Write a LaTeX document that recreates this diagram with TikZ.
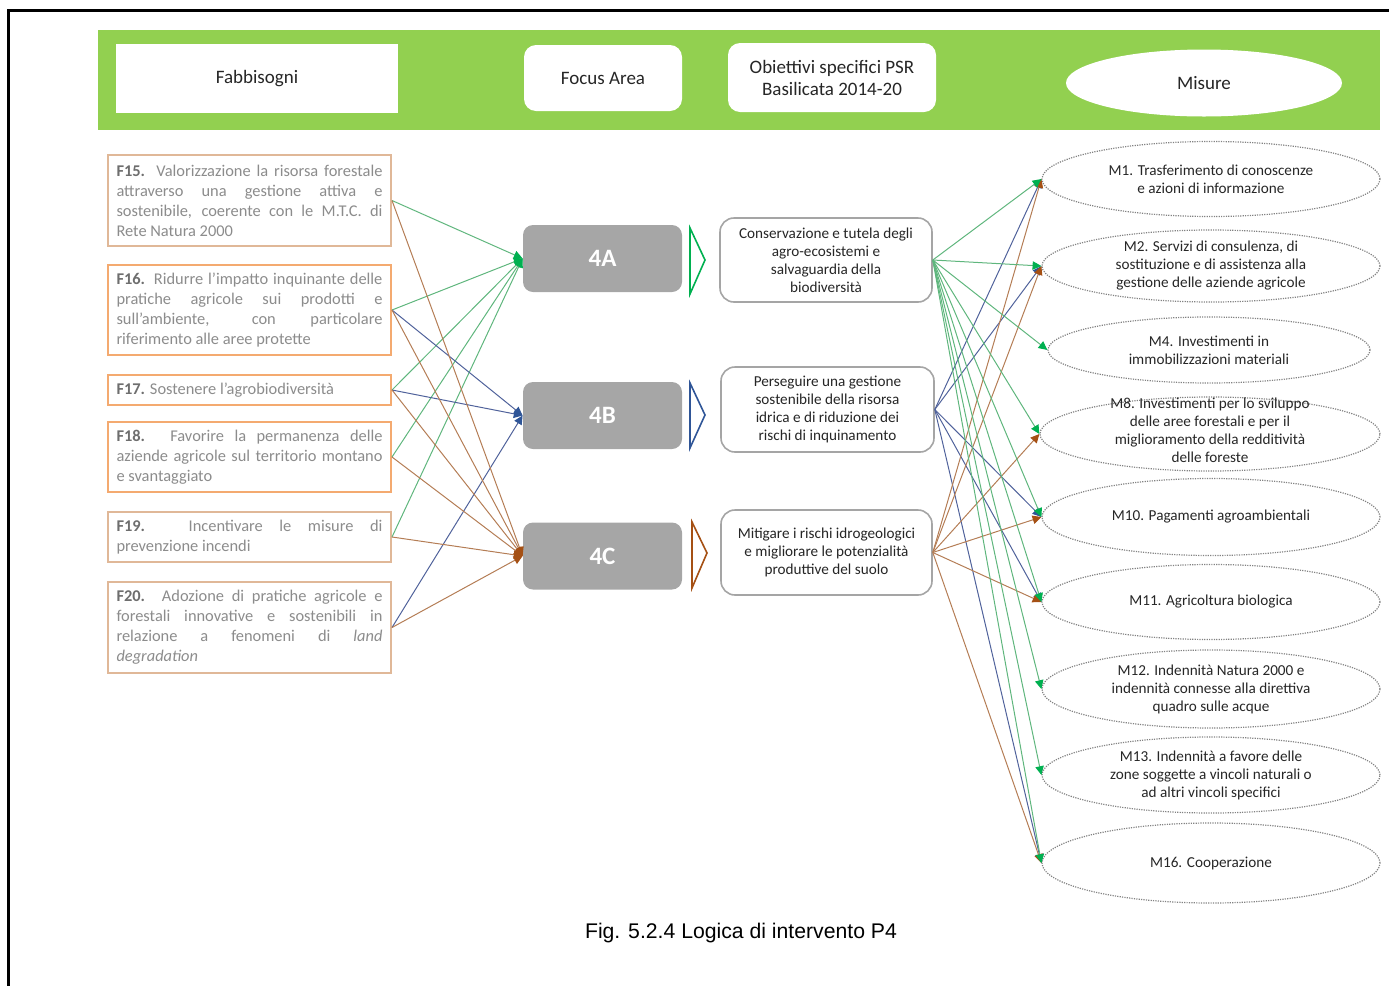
\documentclass[tikz,border=0pt]{standalone}
\usepackage{fontspec}
\setmainfont{Carlito}
\newfontfamily\capfont{Liberation Sans}
\usetikzlibrary{arrows.meta,shapes.geometric}
\definecolor{hdrgreen}{RGB}{146,208,80}
\definecolor{boxgrey}{RGB}{166,166,166}
\definecolor{orgA}{RGB}{244,170,112}
\definecolor{orgB}{RGB}{224,184,152}
\definecolor{ftext}{RGB}{140,140,140}
\definecolor{flabel}{RGB}{110,110,110}
\definecolor{objgrey}{RGB}{165,165,165}
\definecolor{mgrey}{RGB}{130,130,130}
\definecolor{lgreen}{RGB}{95,182,125}
\definecolor{hgreen}{RGB}{0,176,80}
\definecolor{lblue}{RGB}{80,98,155}
\definecolor{hblue}{RGB}{47,85,151}
\definecolor{lbrown}{RGB}{180,125,85}
\definecolor{hbrown}{RGB}{165,80,20}
\tikzset{
  hdrbox/.style={fill=white, align=center, text=black!85, font=\fontsize{9.5}{11}\selectfont},
  fbox/.style={draw=orgA, line width=1pt, fill=white, text width=133pt, align=justify,
    inner xsep=4.25pt, inner ysep=0pt, text=ftext, font=\fontsize{8.2}{10}\selectfont},
  fboxtan/.style={fbox, draw=orgB},
  fabox/.style={fill=boxgrey, rounded corners=5pt, minimum width=79.5pt, minimum height=33.5pt,
    text=white, font=\bfseries\fontsize{12.5}{14}\selectfont},
  objbox/.style={draw=objgrey, line width=0.8pt, rounded corners=7pt, fill=white,
    minimum width=106pt, minimum height=42pt, align=center, text=black!85,
    font=\fontsize{7.6}{9}\selectfont},
  mea/.style={ellipse, draw=mgrey, dash pattern=on 0.6pt off 0.6pt, line width=0.6pt,
    inner sep=0pt, minimum width=169pt},
  mtext/.style={align=center, text=black!85, font=\fontsize{7.6}{9}\selectfont},
  cg/.style={draw=lgreen, line width=0.5pt, -{Triangle[length=4.4pt,width=4.2pt,color=hgreen]}},
  cb/.style={draw=lblue, line width=0.5pt, -{Triangle[length=4.4pt,width=4.2pt,color=hblue]}},
  cr/.style={draw=lbrown, line width=0.5pt, -{Triangle[length=4.4pt,width=4.2pt,color=hbrown]}},
  chev/.style={line width=0.8pt, line join=miter}
}
\begin{document}
\begin{tikzpicture}[x=0.5pt,y=-0.5pt]
\useasboundingbox (0,0) rectangle (1389,986);
% frame
\draw[line width=1.5pt] (8,986) -- (8,10) -- (1389,10);
% header
\fill[hdrgreen] (98,30) rectangle (1380,130);
\node[hdrbox, minimum width=141pt, minimum height=34.5pt] (hfab) at (257,78.5) {Fabbisogni};
\node[hdrbox, rounded corners=6pt, minimum width=79pt, minimum height=33pt] (hfa) at (603,78) {Focus Area};
\node[hdrbox, rounded corners=6pt, minimum width=104pt, minimum height=34.5pt] (hobj) at (832,77.5) {Obiettivi specifici PSR\\Basilicata 2014-20};
\node[hdrbox, ellipse, inner sep=0pt, minimum width=138pt, minimum height=33.5pt] (hmis) at (1204,83) {Misure};

% fabbisogni
\node[fboxtan, minimum height=45.5pt] (f15) at (249.5,200.5) {\textcolor{flabel}{\textbf{F15.}} Valorizzazione la risorsa forestale\linebreak attraverso una gestione attiva e\linebreak sostenibile, coerente con le M.T.C. di\linebreak Rete Natura 2000};
\node[fbox, minimum height=45pt] (f16) at (249.5,310) {\textcolor{flabel}{\textbf{F16.}} Ridurre l’impatto inquinante delle\linebreak pratiche agricole sui prodotti e\linebreak sull’ambiente, con particolare\linebreak riferimento alle aree protette};
\node[fbox, minimum height=15pt] (f17) at (249.5,390) {\textcolor{flabel}{\textbf{F17.}} Sostenere l’agrobiodiversità};
\node[fbox, minimum height=35pt] (f18) at (249.5,457) {\textcolor{flabel}{\textbf{F18.}} Favorire la permanenza delle\linebreak aziende agricole sul territorio montano\linebreak e svantaggiato};
\node[fboxtan, minimum height=25pt] (f19) at (249.5,537) {\textcolor{flabel}{\textbf{F19.}} Incentivare le misure di\linebreak prevenzione incendi};
\node[fboxtan, minimum height=45.5pt] (f20) at (249.5,627.5) {\textcolor{flabel}{\textbf{F20.}} Adozione di pratiche agricole e\linebreak forestali innovative e sostenibili in\linebreak relazione a fenomeni di \textit{land}\linebreak \textit{degradation}};

% focus areas
\node[fabox] (fa4a) at (602.5,258.5) {4A};
\node[fabox] (fa4b) at (602.5,415.5) {4B};
\node[fabox] (fa4c) at (602.5,556) {4C};

% chevrons
\draw[chev, hgreen] (690,228) -- (705,260) -- (690,294) -- cycle;
\draw[chev, hblue] (690,383) -- (705,415) -- (690,448) -- cycle;
\draw[chev, hbrown] (692,522) -- (707,553) -- (692,588) -- cycle;

% objectives
\node[objbox] (oa) at (826,260) {Conservazione e tutela degli\\agro-ecosistemi e\\salvaguardia della\\biodiversità};
\node[objbox, minimum width=106.5pt, minimum height=42.5pt] (ob) at (827.5,409.5) {Perseguire una gestione\\sostenibile della risorsa\\idrica e di riduzione dei\\rischi di inquinamento};
\node[objbox, minimum width=105.5pt, minimum height=42.5pt] (oc) at (826.5,552.5) {Mitigare i rischi idrogeologici\\e migliorare le potenzialità\\produttive del suolo};

% measures
\node[mea, minimum height=37.5pt, label={[mtext]center:{M1. Trasferimento di conoscenze\\e azioni di informazione}}] (m1) at (1211,179) {};
\node[mea, minimum height=36pt, label={[mtext]center:{M2. Servizi di consulenza, di\\sostituzione e di assistenza alla\\gestione delle aziende agricole}}] (m2) at (1211,266) {};
\node[mea, minimum width=161pt, minimum height=33pt, label={[mtext]center:{M4. Investimenti in\\immobilizzazioni materiali}}] (m4) at (1209,350) {};
\node[mea, minimum width=170pt, minimum height=37pt, label={[mtext,yshift=2pt]center:{M8. Investimenti per lo sviluppo\\delle aree forestali e per il\\miglioramento della redditività\\delle foreste}}] (m8) at (1210,434) {};
\node[mea, minimum height=38.5pt, label={[mtext]center:{M10. Pagamenti agroambientali}}] (m10) at (1211,517) {};
\node[mea, minimum height=37.5pt, label={[mtext]center:{M11. Agricoltura biologica}}] (m11) at (1211,602) {};
\node[mea, minimum height=39pt, label={[mtext]center:{M12. Indennità Natura 2000 e\\indennità connesse alla direttiva\\quadro sulle acque}}] (m12) at (1211,689) {};
\node[mea, minimum height=38pt, label={[mtext]center:{M13. Indennità a favore delle\\zone soggette a vincoli naturali o\\ad altri vincoli specifici}}] (m13) at (1211,775) {};
\node[mea, minimum height=40pt, label={[mtext]center:{M16. Cooperazione}}] (m16) at (1211,863) {};

% left connectors
\draw[cg] (f15.east) -- (fa4a.west);
\draw[cg] (f16.east) -- (fa4a.west);
\draw[cg] (f17.east) -- (fa4a.west);
\draw[cg] (f18.east) -- (fa4a.west);
\draw[cg] (f19.east) -- (fa4a.west);
\draw[cb] (f16.east) -- (fa4b.west);
\draw[cb] (f17.east) -- (fa4b.west);
\draw[cb] (f20.east) -- (fa4b.west);
\draw[cr] (f15.east) -- (fa4c.west);
\draw[cr] (f16.east) -- (fa4c.west);
\draw[cr] (f17.east) -- (fa4c.west);
\draw[cr] (f18.east) -- (fa4c.west);
\draw[cr] (f19.east) -- (fa4c.west);
\draw[cr] (f20.east) -- (fa4c.west);

% right connectors
\foreach \m in {m1,m2,m10,m11,m16} {\draw[cb] (ob.east) -- (\m.west);}
\foreach \m in {m1,m2,m8,m10,m11,m16} {\draw[cr] (oc.east) -- (\m.west);}
\foreach \m in {m1,m2,m4,m8,m10,m11,m12,m13,m16} {\draw[cg] (oa.east) -- (\m.west);}

% caption
\node[font=\capfont\fontsize{10.6}{12}\selectfont] (cap) at (741,933) {Fig. 5.2.4 Logica di intervento P4};
\end{tikzpicture}
\end{document}
